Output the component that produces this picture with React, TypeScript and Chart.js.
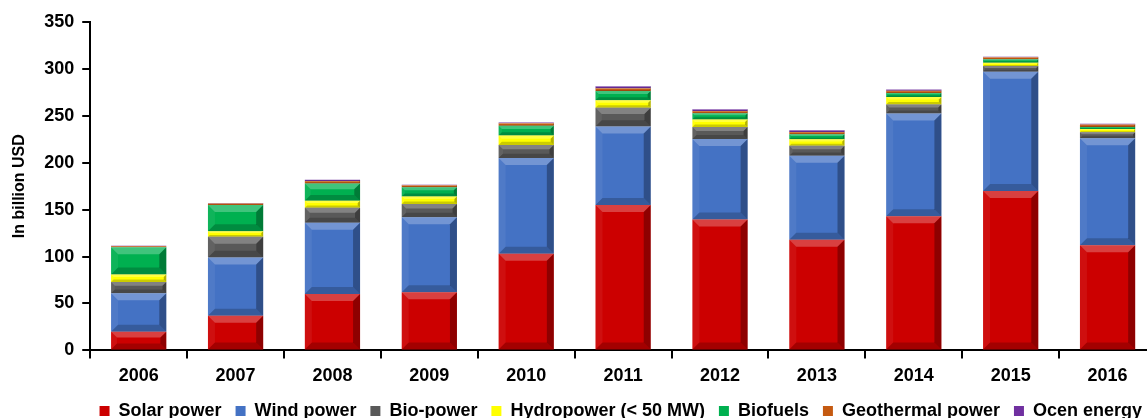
import React, { useEffect, useRef } from "react";
import { Chart, registerables } from "chart.js";

Chart.register(...registerables);

const years = ["2006", "2007", "2008", "2009", "2010", "2011", "2012", "2013", "2014", "2015", "2016"];
const solar = [20, 37, 60, 62, 103, 155, 139.5, 118, 143, 170, 112];
const wind = [41, 62, 76, 80, 102, 83.5, 85.7, 89.4, 109.6, 127, 114];
const bioPower = [12, 22, 16, 14, 14, 20, 13, 10.6, 9.6, 6, 6.5];
const hydro = [8, 6, 7.5, 8, 10, 8, 8, 7, 8, 3.6, 3.5];
const biofuels = [29, 28, 18.5, 10, 10.5, 10, 6.5, 5.3, 4.2, 3.6, 2.2];
const geothermal = [1, 1.5, 2.5, 2, 2.5, 3, 2.5, 2.5, 2.3, 2.2, 2.5];
const ocean = [0.5, 0.5, 1.5, 0.6, 1, 2, 1.7, 1.8, 1.3, 0.6, 0.8];
const yTicks = [0, 50, 100, 150, 200, 250, 300, 350];

const seriesNames = ["Solar power", "Wind power", "Bio-power", "Hydropower (< 50 MW)", "Biofuels", "Geothermal power", "Ocen energy"];
const seriesData = [solar, wind, bioPower, hydro, biofuels, geothermal, ocean];
const seriesColors = ["#cc0000", "#4472c4", "#595959", "#ffff00", "#00b050", "#c55a11", "#7030a0"];

const FONT = "'Liberation Sans', Arial, sans-serif";

const bevelPlugin = {
  id: "bevel",
  afterLayout(chart: any) {
    const lg = chart.legend;
    if (lg) {
      lg.top -= 6;
      lg.bottom -= 6;
    }
  },
  afterDatasetsDraw(chart: any) {
    const ctx = chart.ctx;
    ctx.save();
    chart.data.datasets.forEach((ds: any, di: number) => {
      const meta = chart.getDatasetMeta(di);
      meta.data.forEach((el: any) => {
        const { x, y, base, width } = el.getProps(["x", "y", "base", "width"], true);
        const l = x - width / 2;
        const r = x + width / 2;
        const t = Math.min(y, base);
        const b = Math.max(y, base);
        const h = b - t;
        if (h < 1) return;
        const s = Math.min(7, h / 3);
        const poly = (pts: number[][], fill: string) => {
          ctx.beginPath();
          ctx.moveTo(pts[0][0], pts[0][1]);
          for (let i = 1; i < pts.length; i++) ctx.lineTo(pts[i][0], pts[i][1]);
          ctx.closePath();
          ctx.fillStyle = fill;
          ctx.fill();
        };
        poly([[l, t], [r, t], [r - s, t + s], [l + s, t + s]], "rgba(255,255,255,0.25)");
        poly([[l, t], [l + s, t + s], [l + s, b - s], [l, b]], "rgba(255,255,255,0.06)");
        poly([[r, t], [r, b], [r - s, b - s], [r - s, t + s]], "rgba(0,0,0,0.3)");
        poly([[l, b], [r, b], [r - s, b - s], [l + s, b - s]], "rgba(0,0,0,0.2)");
      });
    });
    ctx.restore();
  },
};

export default function App() {
  const ref = useRef<HTMLCanvasElement | null>(null);

  useEffect(() => {
    if (!ref.current) return;
    const chart = new Chart(ref.current, {
      type: "bar",
      data: {
        labels: years,
        datasets: seriesNames.map((name, i) => ({
          label: name,
          data: seriesData[i],
          backgroundColor: seriesColors[i],
          borderWidth: 0,
          barPercentage: 0.57,
          categoryPercentage: 1,
        })),
      },
      options: {
        animation: false,
        responsive: false,
        devicePixelRatio: 1,
        layout: { padding: { top: 22, right: 4, left: 4, bottom: -18 } },
        plugins: {
          legend: {
            position: "bottom",
            align: "end",
            labels: {
              boxWidth: 10,
              boxHeight: 10,
              padding: 14,
              color: "#000",
              font: { family: FONT, size: 18, weight: "bold" },
            },
          },
          tooltip: { enabled: false },
        },
        scales: {
          x: {
            stacked: true,
            grid: {
              offset: true,
              drawOnChartArea: false,
              drawTicks: true,
              tickLength: 8,
              color: "#000",
              lineWidth: 2,
            },
            border: { display: true, color: "#000", width: 2 },
            ticks: {
              color: "#000",
              padding: 7,
              font: { family: FONT, size: 18, weight: "bold" },
            },
          },
          y: {
            stacked: true,
            min: 0,
            max: 350,
            afterBuildTicks: (axis: any) => {
              axis.ticks = yTicks.map((v) => ({ value: v }));
            },
            grid: {
              drawOnChartArea: false,
              drawTicks: true,
              tickLength: 8,
              color: "#000",
              lineWidth: 2,
            },
            border: { display: true, color: "#000", width: 2 },
            ticks: {
              color: "#000",
              padding: 8,
              font: { family: FONT, size: 18, weight: "bold" },
            },
            title: {
              display: true,
              text: "In billion USD",
              color: "#000",
              padding: { top: 6, bottom: 7 },
              font: { family: FONT, size: 16, weight: "bold" },
            },
          },
        },
      },
      plugins: [bevelPlugin],
    });
    return () => chart.destroy();
  }, []);

  return (
    <div style={{ position: "fixed", left: 0, top: 0, width: 1147, height: 418, overflow: "hidden", background: "#fff" }}>
      <canvas ref={ref} width={1160} height={418} style={{ display: "block" }} />
    </div>
  );
}
